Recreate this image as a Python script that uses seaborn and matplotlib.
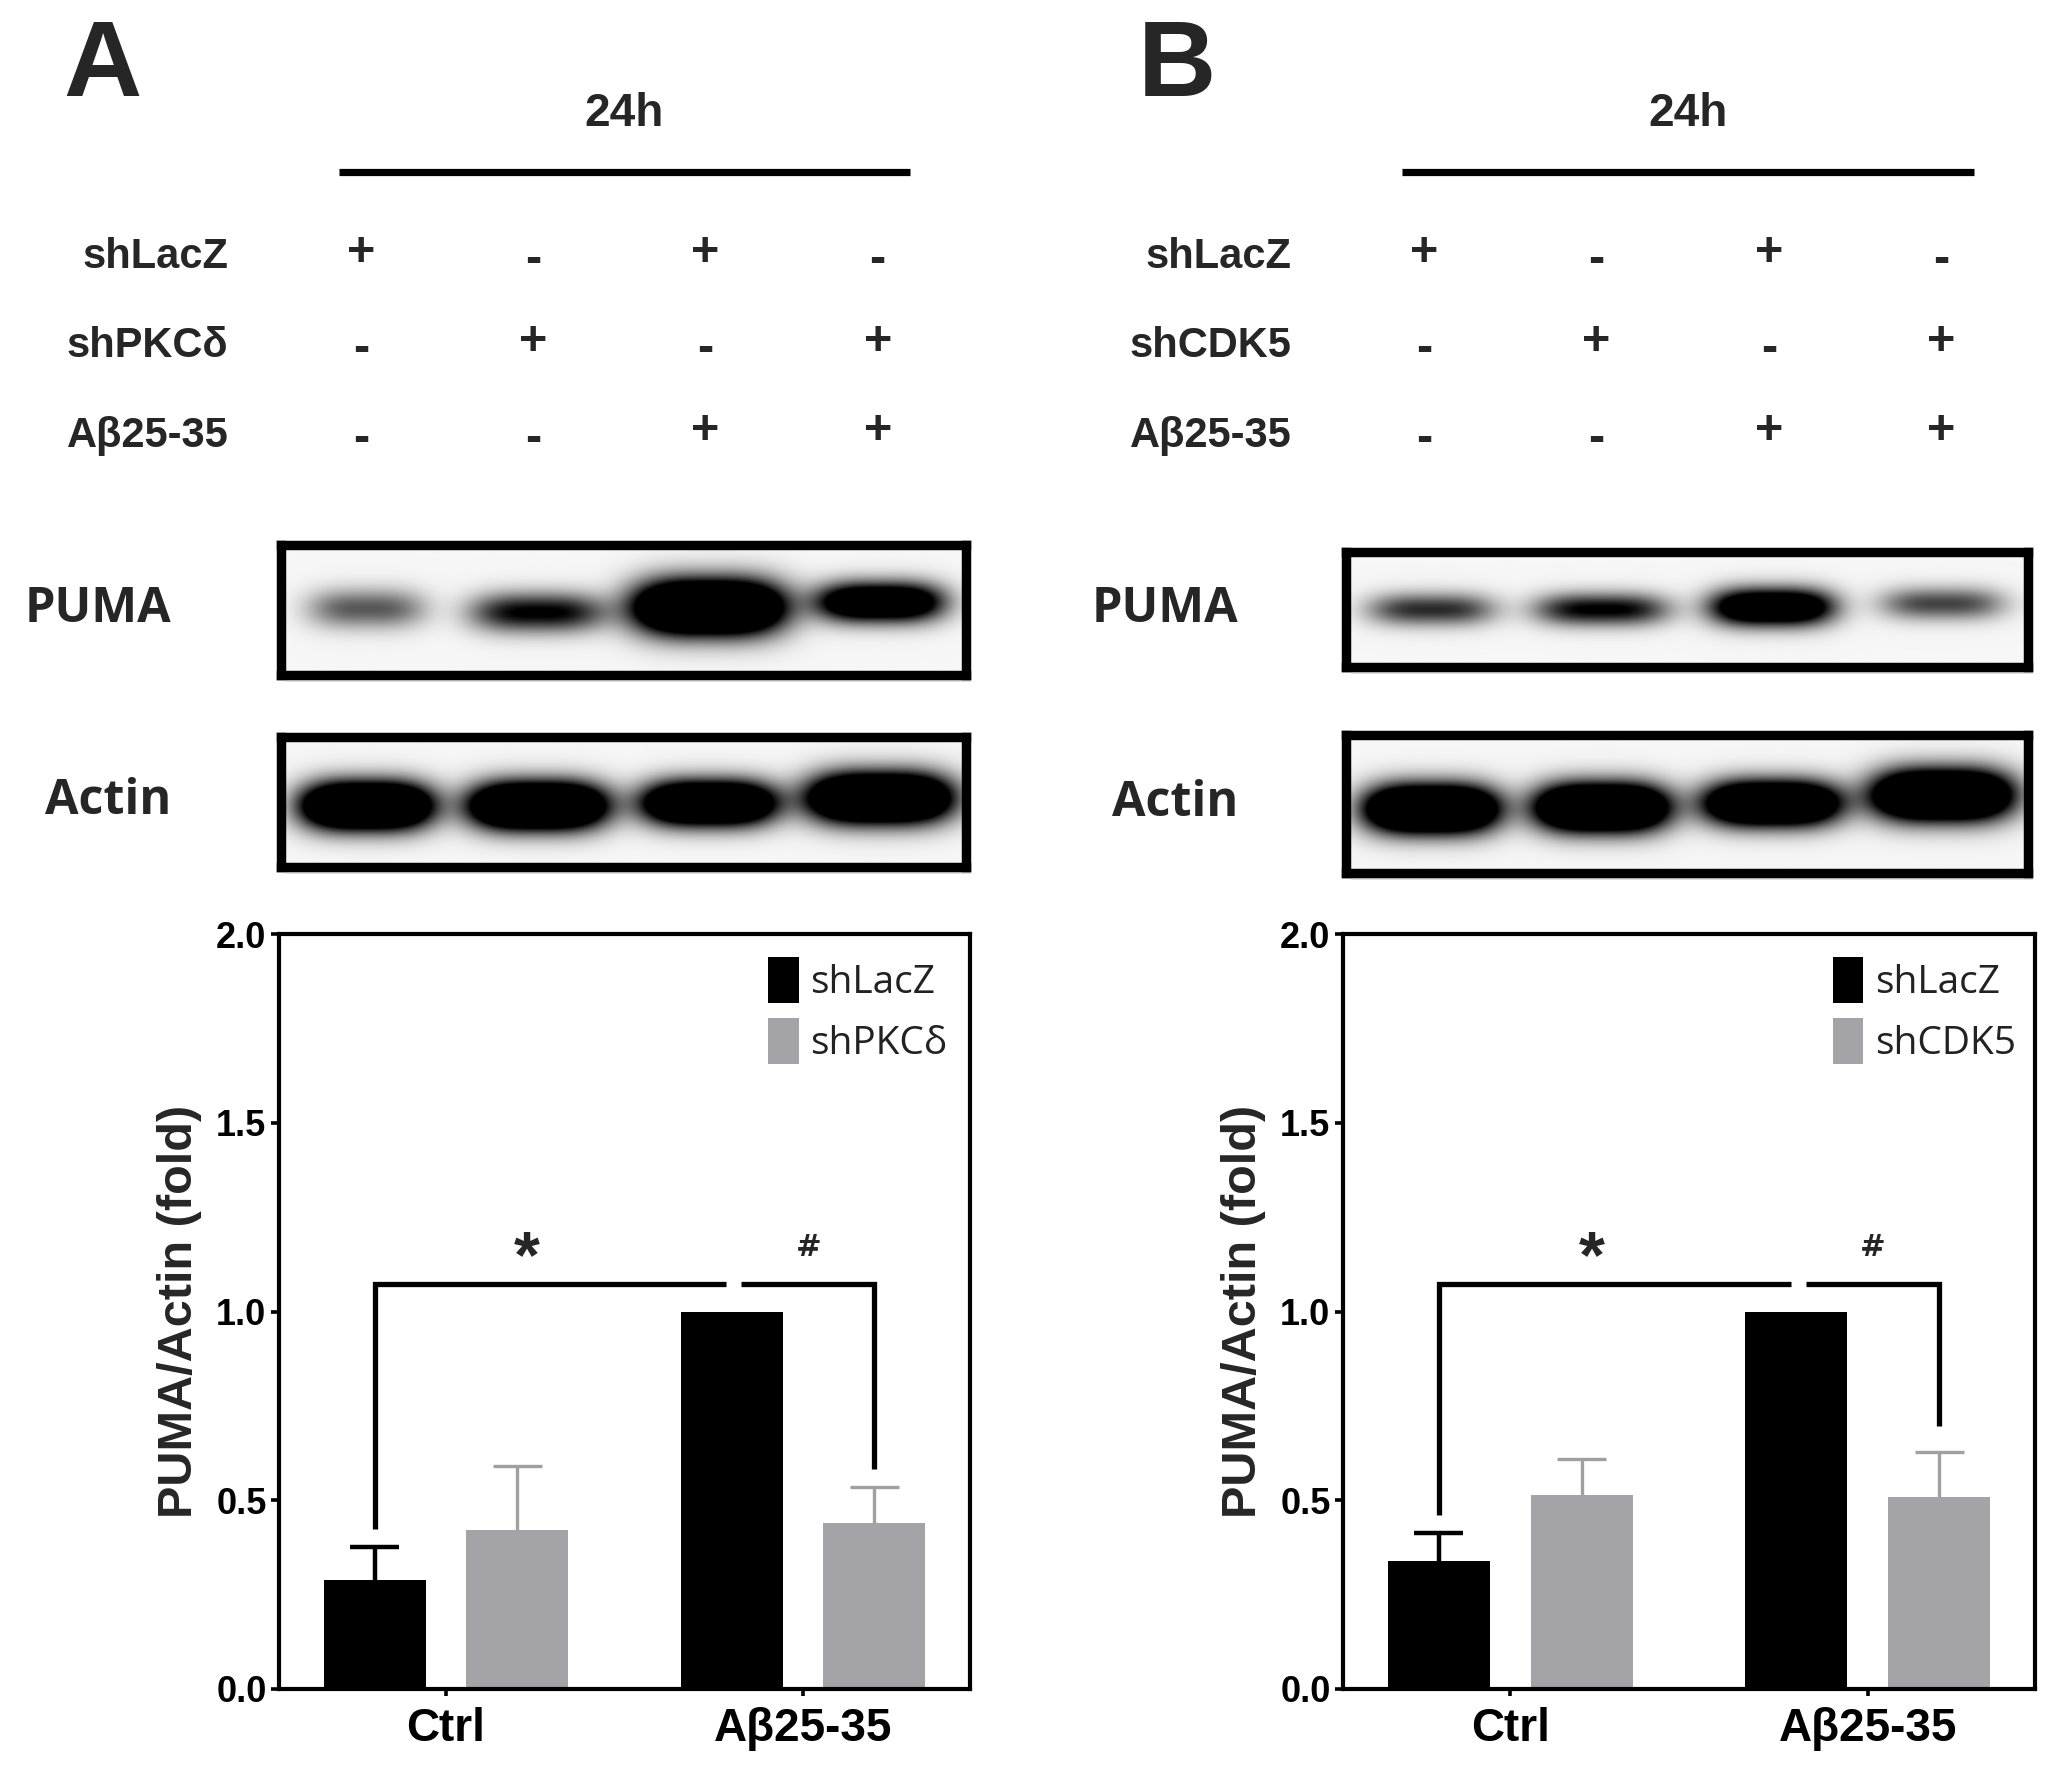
import numpy as np
import pandas as pd
import matplotlib
matplotlib.use("Agg")
import matplotlib.pyplot as plt
import seaborn as sns
from matplotlib.patches import Rectangle

# ---------------- data ----------------
conditions = ["Ctrl", "Aβ25-35"]
groups_A = ["shLacZ", "shPKCδ"]
groups_B = ["shLacZ", "shCDK5"]

vals_A_lacz = [0.29, 1.00]
vals_A_kd = [0.42, 0.44]
err_A_lacz = [0.087, 0.0]
err_A_kd = [0.17, 0.095]

vals_B_lacz = [0.34, 1.00]
vals_B_kd = [0.515, 0.508]
err_B_lacz = [0.073, 0.0]
err_B_kd = [0.094, 0.121]

# significance brackets
sig_top = 1.072
sig_ends_A = [0.424, 0.583]
sig_ends_B = [0.46, 0.698]
sig_marks = ["*", "#"]
sig_x = [0.227, 1.015]
sig_y = [1.135, 1.17]

# treatment table
row_labels_A = ["shLacZ", "shPKCδ", "Aβ25-35"]
row_labels_B = ["shLacZ", "shCDK5", "Aβ25-35"]
signs_lacz = ["+", "-", "+", "-"]
signs_kd = ["-", "+", "-", "+"]
signs_ab = ["-", "-", "+", "+"]
time_label = "24h"
blot_labels = ["PUMA", "Actin"]
lanes = [1, 2, 3, 4]

# blot bands: darkness, half-width (lane units), half-height (axes frac), centre y (axes frac)
pumaA_dark = [0.62, 1.0, 2.4, 1.7]
pumaA_hw = [0.34, 0.39, 0.44, 0.37]
pumaA_hh = [0.15, 0.15, 0.21, 0.15]
pumaA_cy = [0.51, 0.48, 0.52, 0.56]

actinA_dark = [2.4, 2.4, 2.2, 2.4]
actinA_hw = [0.38, 0.40, 0.39, 0.42]
actinA_hh = [0.18, 0.18, 0.17, 0.19]
actinA_cy = [0.47, 0.47, 0.49, 0.53]

pumaB_dark = [0.8, 1.0, 1.7, 0.7]
pumaB_hw = [0.37, 0.39, 0.36, 0.36]
pumaB_hh = [0.14, 0.14, 0.16, 0.14]
pumaB_cy = [0.50, 0.50, 0.52, 0.55]

actinB_dark = [2.4, 2.4, 2.2, 2.4]
actinB_hw = [0.39, 0.39, 0.40, 0.41]
actinB_hh = [0.17, 0.17, 0.16, 0.18]
actinB_cy = [0.46, 0.47, 0.50, 0.56]

# ---------------- style ----------------
sns.set_theme(style="ticks")
plt.rcParams["font.family"] = ["Liberation Sans", "DejaVu Sans"]

W, H = 2064, 1773
fig = plt.figure(figsize=(W / 100, H / 100), dpi=100)
fig.patch.set_facecolor("white")

BLACK = "#000000"
GRAY = "#a4a3a8"
ERRGRAY = "#a0a0a0"


def fpos(l, t, r, b):
    return [l / W, 1 - b / H, (r - l) / W, (b - t) / H]


def header(ax, row_labels):
    ax.set_xlim(0.5, 4.5)
    ax.set_ylim(2.425, -1.263)
    ax.axis("off")
    for r, (lab, signs) in enumerate(zip(row_labels, [signs_lacz, signs_kd, signs_ab])):
        ax.text(0.2, r + 0.04, lab, ha="right", va="center", fontsize=30, fontweight="bold")
        for lane, s in zip(lanes, signs):
            ax.text(lane - 0.03, r + (0.0 if s == "+" else 0.08), s, ha="center", va="center",
                    fontsize=35, fontweight="bold")
    ax.plot([0.84, 4.16], [-0.905, -0.905], color="black", lw=5.2, solid_capstyle="butt",
            clip_on=False)
    ax.text(2.5, -1.55, time_label, ha="center", va="center", fontsize=33, fontweight="bold",
            clip_on=False)


def blot(ax, dark, hw, hh, cy, label, label_x):
    xs = np.linspace(0.5, 4.5, 700)
    ys = np.linspace(0, 1, 160)
    X, Y = np.meshgrid(xs, ys)
    D = np.full_like(X, 0.035)
    for lane, d, w, h, c in zip(lanes, dark, hw, hh, cy):
        D += d * np.exp(-np.abs((X - lane) / w) ** 3.2 - ((Y - c) / h) ** 2)
    D = np.clip(D, 0, 1)
    ax.imshow(D, extent=(0.5, 4.5, 0, 1), origin="lower", aspect="auto", cmap="gray_r",
              vmin=0, vmax=1, interpolation="bilinear")
    ax.set_xlim(0.5, 4.5)
    ax.set_ylim(0, 1)
    ax.set_xticks([])
    ax.set_yticks([])
    for sp in ax.spines.values():
        sp.set_visible(True)
        sp.set_linewidth(6.8)
        sp.set_color("black")
    p = ax.get_position()
    fig.patches.append(Rectangle((p.x0 + 5 / W, p.y0 - 7 / H), p.width, p.height,
                                 transform=fig.transFigure, facecolor="#c8c8c8",
                                 edgecolor="none", zorder=-1, alpha=0.6))
    ax.text(label_x, 0.5, label, transform=ax.transAxes, ha="right", va="center",
            fontsize=35, fontweight="bold", family=["Open Sans", "DejaVu Sans"])


def bar_panel(ax, groups, lacz, kd, elacz, ekd, ends):
    df = pd.DataFrame({
        "condition": conditions * 2,
        "group": [groups[0]] * 2 + [groups[1]] * 2,
        "value": lacz + kd,
    })
    sns.barplot(data=df, x="condition", y="value", hue="group", order=conditions,
                hue_order=groups, palette=[BLACK, GRAY], width=0.8, gap=0.285,
                errorbar=None, saturation=1, linewidth=0, ax=ax, legend=True, zorder=2)
    capw = 0.068
    for cont, errs, col, lw in zip(ax.containers, [elacz, ekd], [BLACK, ERRGRAY], [3.2, 2.4]):
        for bar, e in zip(cont, errs):
            if e <= 0:
                continue
            xc = bar.get_x() + bar.get_width() / 2
            top = bar.get_height()
            ax.vlines(xc, top, top + e, color=col, lw=lw, zorder=1)
            ax.hlines(top + e, xc - capw, xc + capw, color=col, lw=lw, zorder=1)
    c_l = ax.containers[0][0]
    c_m = ax.containers[0][1]
    c_r = ax.containers[1][1]
    xl = c_l.get_x() + c_l.get_width() / 2
    xm = c_m.get_x() + c_m.get_width() / 2
    xr = c_r.get_x() + c_r.get_width() / 2
    ax.plot([xl, xl, xm - 0.015], [ends[0], sig_top, sig_top], color="black", lw=3.8,
            solid_joinstyle="miter", solid_capstyle="butt", zorder=3)
    ax.plot([xm + 0.027, xr, xr], [sig_top, sig_top, ends[1]], color="black", lw=3.8,
            solid_joinstyle="miter", solid_capstyle="butt", zorder=3)
    ax.text(sig_x[0], sig_y[0], sig_marks[0], ha="center", va="center", fontsize=48,
            fontweight="bold")
    ax.text(sig_x[1], sig_y[1], sig_marks[1], ha="center", va="center", fontsize=22,
            fontweight="bold", family=["DejaVu Sans"])

    ax.set_xlim(-0.468, 1.468)
    ax.set_ylim(0, 2.0)
    ax.set_yticks(np.arange(0, 2.01, 0.5))
    ax.set_yticklabels([f"{v:.1f}" for v in np.arange(0, 2.01, 0.5)])
    ax.set_xlabel("")
    ax.set_ylabel("PUMA/Actin (fold)", fontsize=35, fontweight="bold", labelpad=10)
    for sp in ax.spines.values():
        sp.set_visible(True)
        sp.set_linewidth(3.0)
        sp.set_color("black")
    ax.tick_params(axis="y", direction="out", length=6, width=2.6, pad=3, labelsize=26,
                   colors="black")
    ax.tick_params(axis="x", direction="out", length=5, width=2.6, pad=8, labelsize=33,
                   colors="black")
    for t in ax.get_yticklabels() + ax.get_xticklabels():
        t.set_fontweight("bold")

    leg = ax.get_legend()
    handles = leg.legend_handles
    labels = [t.get_text() for t in leg.texts]
    leg.remove()
    ax.legend(handles, labels, loc="upper left", bbox_to_anchor=(0.708, 0.97), frameon=False,
              borderpad=0, borderaxespad=0, handlelength=0.78, handleheight=1.47,
              handletextpad=0.3, labelspacing=0.37,
              prop={"family": ["Open Sans", "DejaVu Sans"], "size": 28}, labelcolor="#222222")


# ---------------- panel A ----------------
axhA = fig.add_axes(fpos(280, 140, 969, 470))
header(axhA, row_labels_A)
axpA = fig.add_axes(fpos(281, 545, 966, 675))
blot(axpA, pumaA_dark, pumaA_hw, pumaA_hh, pumaA_cy, blot_labels[0], -0.16)
axaA = fig.add_axes(fpos(281, 737, 966, 867))
blot(axaA, actinA_dark, actinA_hw, actinA_hh, actinA_cy, blot_labels[1], -0.16)
axbA = fig.add_axes(fpos(279, 934, 970, 1689))
bar_panel(axbA, groups_A, vals_A_lacz, vals_A_kd, err_A_lacz, err_A_kd, sig_ends_A)

# ---------------- panel B ----------------
axhB = fig.add_axes(fpos(1343, 140, 2033, 470))
header(axhB, row_labels_B)
axpB = fig.add_axes(fpos(1346, 552, 2028, 667))
blot(axpB, pumaB_dark, pumaB_hw, pumaB_hh, pumaB_cy, blot_labels[0], -0.158)
axaB = fig.add_axes(fpos(1346, 735, 2028, 873))
blot(axaB, actinB_dark, actinB_hw, actinB_hh, actinB_cy, blot_labels[1], -0.158)
axbB = fig.add_axes(fpos(1343, 934, 2035, 1689))
bar_panel(axbB, groups_B, vals_B_lacz, vals_B_kd, err_B_lacz, err_B_kd, sig_ends_B)

# panel letters
fig.text(102 / W, 1 - 68 / H, "A", ha="center", va="center", fontsize=78, fontweight="bold")
fig.text(1177 / W, 1 - 68 / H, "B", ha="center", va="center", fontsize=78, fontweight="bold")

fig.savefig("out.png", dpi=100, facecolor="white")
